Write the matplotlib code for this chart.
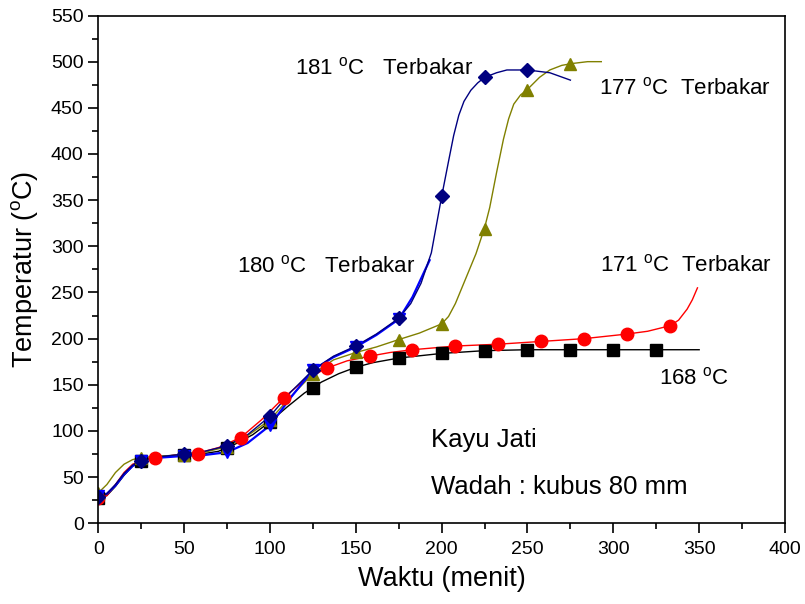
import numpy as np
import matplotlib
matplotlib.use("Agg")
import matplotlib.pyplot as plt
from matplotlib.ticker import MultipleLocator

plt.rcParams["font.family"] = ["Liberation Sans", "DejaVu Sans"]
plt.rcParams["mathtext.fontset"] = "custom"
plt.rcParams["mathtext.rm"] = "Liberation Sans"
plt.rcParams["mathtext.it"] = "Liberation Sans"

# measured points (time in minutes, temperature in C)
x_168 = [0, 25, 50, 75, 100, 125, 150, 175, 200, 225, 250, 275, 300, 325]
y_168 = [27, 67, 74, 82, 110, 147, 169, 179, 184, 187, 188, 188, 188, 188]

x_171 = [0, 33, 58, 83, 108, 133, 158, 183, 208, 233, 258, 283, 308, 333]
y_171 = [27, 71, 75, 92, 136, 168, 181, 188, 192, 194, 197, 200, 205, 214]

x_177 = [0, 25, 50, 75, 100, 125, 150, 175, 200, 225, 250, 275]
y_177 = [33, 71, 74, 83, 112, 162, 185, 199, 216, 319, 469, 498]

x_181 = [0, 25, 50, 75, 100, 125, 150, 175, 200, 225, 250]
y_181 = [28, 68, 75, 84, 116, 166, 192, 222, 354, 483, 491]

x_180 = [0, 25, 50, 75, 100, 125, 150, 175]
y_180 = [30, 68, 73, 77, 106, 166, 191, 221]

# smoothed fit curves
cx_168 = [0, 5, 10, 15, 20, 25, 30, 40, 50, 60, 70, 75, 80, 90, 100, 110, 120, 125, 130, 140,
          150, 160, 175, 190, 200, 225, 250, 275, 300, 325, 350]
cy_168 = [27, 30, 40, 52, 62, 67, 70, 73, 74, 75, 78, 82, 86, 96, 110, 126, 141, 147, 153, 162,
          169, 174, 179, 182, 184, 187, 188, 188, 188, 188, 188]

cx_171 = [0, 5, 10, 15, 20, 27, 33, 45, 58, 70, 83, 95, 108, 120, 133, 145, 158, 170, 183, 208,
          233, 258, 283, 308, 320, 333, 338, 343, 346, 349]
cy_171 = [27, 30, 42, 55, 64, 69, 71, 74, 76, 82, 93, 112, 136, 155, 168, 176, 181, 185, 188, 192,
          194, 197, 200, 205, 208, 214, 220, 232, 242, 255]

cx_177 = [0, 5, 10, 15, 20, 25, 37, 50, 62, 75, 87, 100, 112, 125, 137, 150, 162, 175, 187, 200,
          204, 208, 214, 220, 225, 228, 232, 236, 239, 242, 246, 250, 257, 263, 270, 276, 285, 293]
cy_177 = [33, 42, 55, 64, 69, 71, 73, 74, 77, 83, 95, 112, 137, 162, 177, 185, 191, 199, 206, 216,
          224, 238, 265, 292, 320, 342, 380, 416, 438, 454, 464, 470, 483, 491, 496, 498, 500, 500]

cx_181 = [0, 5, 10, 15, 20, 25, 35, 50, 62, 75, 87, 100, 112, 125, 137, 150, 162, 175, 182, 188,
          194, 200, 204, 207, 210, 213, 217, 221, 225, 232, 238, 250, 263, 275]
cy_181 = [28, 32, 42, 54, 63, 68, 72, 75, 78, 84, 96, 116, 142, 166, 181, 192, 205, 222, 238, 260,
          293, 354, 392, 420, 442, 457, 469, 477, 483, 488, 491, 491, 488, 480]

cx_180 = [0, 5, 10, 15, 20, 25, 35, 50, 62, 75, 87, 100, 112, 125, 137, 150, 162, 175, 183, 188, 193]
cy_180 = [30, 32, 41, 53, 62, 68, 71, 73, 74, 77, 87, 106, 136, 166, 180, 191, 204, 221, 245, 265, 285]

fig = plt.figure(figsize=(8.05, 6.04), dpi=100)
ax = fig.add_axes([98.3 / 805, 1 - 523.3 / 604, (785 - 98.3) / 805, (523.3 - 15.5) / 604])

ax.plot(cx_168, cy_168, color="black", lw=1)
ax.plot(cx_171, cy_171, color="red", lw=1)
ax.plot(cx_177, cy_177, color="#808000", lw=1)
ax.plot(cx_180, cy_180, color="blue", lw=1.6)
ax.plot(cx_181, cy_181, color="#000080", lw=1)

ax.plot(x_168, y_168, "s", color="black", ms=8, ls="none")
ax.plot(x_171, y_171, "o", color="red", ms=9, ls="none")
ax.plot(x_177, y_177, "^", color="#808000", ms=9, ls="none")
ax.plot(x_180, y_180, "v", color="blue", ms=9, ls="none")
ax.plot(x_181, y_181, "D", color="#000080", ms=7.5, ls="none")

ax.set_xlim(0, 400)
ax.set_ylim(0, 550)
ax.xaxis.set_major_locator(MultipleLocator(50))
ax.xaxis.set_minor_locator(MultipleLocator(25))
ax.yaxis.set_major_locator(MultipleLocator(50))
ax.yaxis.set_minor_locator(MultipleLocator(25))
ax.tick_params(which="both", direction="out", top=False, right=False, width=1.2)
ax.tick_params(which="major", length=7.5, labelsize=14)
ax.tick_params(axis="x", which="major", pad=5)
ax.tick_params(axis="y", which="major", pad=3)
ax.tick_params(which="minor", length=4.5)
for s in ax.spines.values():
    s.set_linewidth(1.2)

ax.set_xlabel("Waktu (menit)", fontsize=19.5, labelpad=6)
ax.set_ylabel(r"Temperatur ($^{\mathrm{o}}$C)", fontsize=19.5, labelpad=8)

ts = 16
ax.text(114.6, 486.6, r"181 $^{\mathrm{o}}$C   Terbakar", fontsize=ts, va="baseline")
ax.text(291.8, 464.2, r"177 $^{\mathrm{o}}$C  Terbakar", fontsize=ts, va="baseline")
ax.text(80.6, 272.0, r"180 $^{\mathrm{o}}$C   Terbakar", fontsize=ts, va="baseline")
ax.text(292.2, 272.7, r"171 $^{\mathrm{o}}$C  Terbakar", fontsize=ts, va="baseline")
ax.text(326.7, 150.9, r"168 $^{\mathrm{o}}$C", fontsize=ts, va="baseline")
ax.text(194, 83.0, "Kayu Jati", fontsize=18.5, va="baseline")
ax.text(194, 31.8, "Wadah : kubus 80 mm", fontsize=18.5, va="baseline")

fig.savefig("out.png", dpi=100)
